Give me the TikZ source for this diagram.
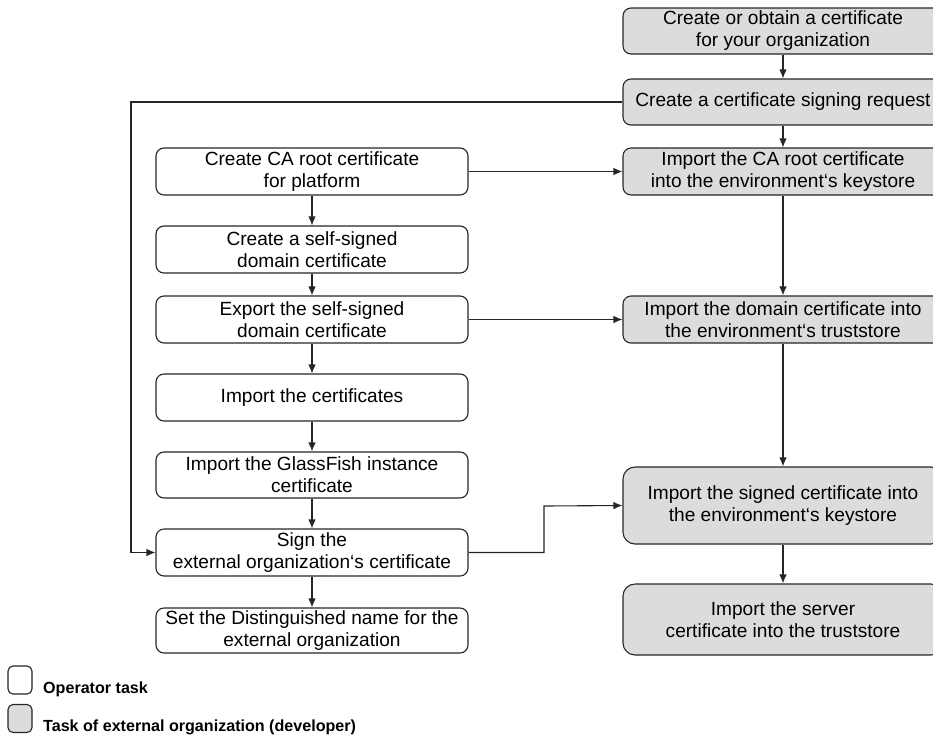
\documentclass[tikz,border=0pt]{standalone}
\usepackage{fontspec}
\setmainfont{Liberation Sans}
\usetikzlibrary{arrows.meta}
\definecolor{boxgray}{HTML}{DCDCDC}
\definecolor{linegray}{HTML}{262626}
\tikzset{
  task/.style={draw=linegray, line width=1.1pt, rounded corners=8pt, align=center,
    font=\fontsize{19.1}{22}\selectfont, inner sep=0pt, anchor=center},
  optask/.style={task, fill=white, minimum width=312pt},
  extask/.style={task, fill=boxgray, minimum width=320pt},
  conn/.style={draw=linegray, line width=1.1pt, -{Latex[length=9pt,width=7.5pt]}},
  legbox/.style={draw=linegray, line width=1.1pt, rounded corners=5pt, minimum width=24pt, minimum height=28pt, inner sep=0pt},
  legtext/.style={font=\fontsize{16.1}{18}\bfseries\selectfont, anchor=west, inner sep=0pt}
}
\begin{document}
\begin{tikzpicture}[x=1pt,y=-1pt]
\useasboundingbox (0,0) rectangle (933,734);
% right column (external organization)
\node[extask, minimum height=46pt] (r1) at (783,31) {Create or obtain a certificate\\for your organization};
\node[extask, minimum height=46pt] (r2) at (783,102) {Create a certificate signing request};
\node[extask, minimum height=47pt] (r3) at (783,171.5) {Import the CA root certificate\\into the environment‘s keystore};
\node[extask, minimum height=47pt] (r4) at (783,319.5) {Import the domain certificate into\\the environment‘s truststore};
\node[extask, minimum height=77pt, rounded corners=12pt] (r5) at (783,505.5) {Import the signed certificate into\\the environment‘s keystore};
\node[extask, minimum height=71pt, rounded corners=12pt] (r6) at (783,619.5) {Import the server\\certificate into the truststore};
% left column (operator)
\node[optask, minimum height=47pt] (l1) at (312,171.5) {Create CA root certificate\\for platform};
\node[optask, minimum height=47pt] (l2) at (312,249.5) {Create a self-signed\\domain certificate};
\node[optask, minimum height=47pt] (l3) at (312,319.5) {Export the self-signed\\domain certificate};
\node[optask, minimum height=47pt] (l4) at (312,397.5) {Import the certificates};
\node[optask, minimum height=46pt] (l5) at (312,475) {Import the GlassFish instance\\certificate};
\node[optask, minimum height=47pt] (l6) at (312,552.5) {Sign the\\external organization‘s certificate};
\node[optask, minimum height=45pt] (l7) at (312,630.5) {Set the Distinguished name for the\\external organization};
% connectors
\draw[conn] (r1) -- (r2);
\draw[conn] (r2) -- (r3);
\draw[conn] (r3) -- (r4);
\draw[conn] (r4) -- (r5);
\draw[conn] (r5) -- (r6);
\draw[conn] (l1) -- (l2);
\draw[conn] (l2) -- (l3);
\draw[conn] (l3) -- (l4);
\draw[conn] (l4) -- (l5);
\draw[conn] (l5) -- (l6);
\draw[conn] (l6) -- (l7);
\draw[conn] (l1.east) -- (r3.west);
\draw[conn] (l3.east) -- (r4.west);
\draw[conn] (l6.east) -- (544,552.5) -- (544,506) -- (r5.west);
\draw[conn] (r2.west) -- (131,102) -- (131,552.5) -- (l6.west);
% legend
\node[legbox, fill=white] (lg1) at (20,680) {};
\node[legbox, fill=boxgray] (lg2) at (20,718.5) {};
\node[legtext] (lt1) at (43,689) {Operator task};
\node[legtext] (lt2) at (43,727) {Task of external organization (developer)};
\end{tikzpicture}
\end{document}
